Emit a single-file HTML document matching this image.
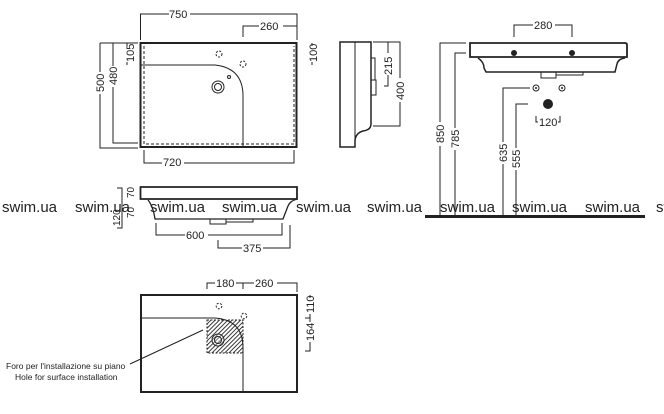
<!DOCTYPE html>
<html><head><meta charset="utf-8"><style>
html,body{margin:0;padding:0;background:#fff;}
svg{display:block;}
text{font-family:"Liberation Sans",Arial,sans-serif;fill:#222;}
.d{font-size:11px;}
.w{font-size:15px;fill:#939393;}
</style></head><body>
<svg width="664" height="414" viewBox="0 0 664 414" xmlns="http://www.w3.org/2000/svg">
<defs>
<pattern id="h" width="3" height="3" patternUnits="userSpaceOnUse" patternTransform="rotate(45)">
<rect width="3" height="3" fill="#fff"/><line x1="0" y1="0" x2="0" y2="3" stroke="#222" stroke-width="1.8"/>
</pattern>
</defs>
<g fill="none" stroke="#222" stroke-width="1">
<!-- top view -->
<rect x="140.5" y="43" width="156" height="104" stroke-width="2"/>
<path d="M144 46 V144 H294 V46" stroke-dasharray="3,2"/>
<path d="M141 65 H215 Q243 68 243 96 V147"/>
<circle cx="218" cy="87" r="6"/><circle cx="218" cy="87" r="3.5"/>
<circle cx="229" cy="77" r="1.5"/>
<circle cx="219" cy="54" r="3" stroke-dasharray="2,1.5"/>
<circle cx="243" cy="64" r="3" stroke-dasharray="2,1.5"/>
<path d="M140.5 40 V14 H169 M190 14 H297 V40"/>
<path d="M243 37 V26 H259 M283 26 H297"/>
<path d="M100 43 H138 M100 43 V72 M100 94 V148 H138 M113 43 V66 M113 87 V143 H138"/>
<path d="M127 43 V46 M127 62 V65"/>
<path d="M312 43 V46 M312 62 V65"/>
<path d="M144 150 V163 H162 M184 163 H294 V150"/>
<!-- side view -->
<path d="M340 42 H371 V124 Q371 130 363 131 Q356 133 355 140 V147 H340 Z" stroke-width="1.5"/>
<path d="M355 42 V147"/>
<rect x="371" y="58" width="4" height="22"/><rect x="371" y="80" width="5" height="15"/>
<path d="M373 42 H400 V78 M400 102 V126 H373 M373 42 H388 V53 M388 75 V86 H384"/>
<!-- front right -->
<path d="M470 43 H625 Q627 43 627 45 V57 H470 Z" stroke-width="1.8"/>
<path d="M478 58 Q484 62 484 68 L486 72 H615 L617 64 Q618 59 625 58" stroke-width="1.5"/>
<rect x="541" y="72" width="15" height="6"/><rect x="556" y="72" width="27" height="3"/>
<circle cx="536" cy="88" r="3"/><circle cx="562" cy="88" r="3"/>
<path d="M514 37 V25 H533 M555 25 H572 V37"/>
<path d="M440 218 V146 M440 122 V43 H466 M455 218 V150 M455 128 V53 H466"/>
<path d="M503 218 V164 M503 142 V88 H530 M516 218 V170 M516 148 V104 H528"/>
<path d="M536 116 V122 H538 M560 116 V122 H558"/>
<!-- front middle -->
<path d="M140.5 187 H297 V199 H140.5 Z" stroke-width="1.8"/>
<path d="M148 200 Q153 206 155 219 H283 L288 206 Q290 201 297 199" stroke-width="1.3"/>
<rect x="210" y="219" width="16" height="5"/><rect x="226" y="219" width="27" height="3"/>
<path d="M156 223 V235 H185 M208 235 H282 V223"/>
<path d="M218 240 V248 H242 M263 248 H290 V225"/>
<path d="M117 188 H122 V228 H117"/>
<!-- bottom view -->
<rect x="141" y="295" width="156" height="97" stroke-width="2"/>
<rect x="207" y="320" width="36" height="33" fill="url(#h)" stroke-dasharray="2,1.5"/>
<path d="M141 318 H215 Q243 320 243 348 V392"/>
<circle cx="218" cy="340" r="6" fill="#fff" fill-opacity="0.3"/><circle cx="218" cy="340" r="3.5"/>
<circle cx="219" cy="306" r="2.8" stroke-dasharray="2,1.5"/>
<circle cx="244" cy="316" r="2.8" stroke-dasharray="2,1.5"/>
<path d="M207 289 V283 H215 M236 283 H254 M277 283 H297 V292"/>
<path d="M243 283 V289"/>
<path d="M310 295 V298 M310 314 V318 H305 M310 318 V322 M310 342 V351 H305"/>
<path d="M130 364 L203 330"/>
</g>
<g fill="#222">
<circle cx="514" cy="53" r="3"/><circle cx="572" cy="53" r="3"/>
<circle cx="548" cy="104" r="5"/>
<circle cx="536" cy="88" r="1"/><circle cx="562" cy="88" r="1"/>
</g>
<rect x="425" y="215" width="220" height="3" fill="#222"/>
<g class="d">
<text x="169" y="18">750</text>
<text x="260" y="30">260</text>
<text transform="translate(104 92) rotate(-90)">500</text>
<text transform="translate(117 85) rotate(-90)">480</text>
<text transform="translate(134 62) rotate(-90)">105</text>
<text transform="translate(317 62) rotate(-90)">100</text>
<text x="163" y="166">720</text>
<text transform="translate(392 75) rotate(-90)">215</text>
<text transform="translate(404 100) rotate(-90)">400</text>
<text x="534" y="29">280</text>
<text transform="translate(444 143) rotate(-90)">850</text>
<text transform="translate(459 148) rotate(-90)">785</text>
<text transform="translate(507 162) rotate(-90)">635</text>
<text transform="translate(520 168) rotate(-90)">555</text>
<text x="539" y="126">120</text>
<text x="186" y="239">600</text>
<text x="243" y="252">375</text>
<text transform="translate(120 226) rotate(-90)" font-size="10">120</text>
<text transform="translate(134 198) rotate(-90)" font-size="10">70</text>
<text transform="translate(134 218) rotate(-90)" font-size="10">70</text>
<text x="216" y="287">180</text>
<text x="255" y="287">260</text>
<text transform="translate(314 313) rotate(-90)">110</text>
<text transform="translate(314 341) rotate(-90)">164</text>
<text x="6" y="369" font-size="8.5">Foro per l'installazione su piano</text>
<text x="15" y="380" font-size="8.5">Hole for surface installation</text>
</g>
<g class="w">
<text x="2" y="212">swim.ua</text>
<text x="75" y="212">swim.ua</text>
<text x="150" y="212">swim.ua</text>
<text x="222" y="212">swim.ua</text>
<text x="296" y="212">swim.ua</text>
<text x="367" y="212">swim.ua</text>
<text x="440" y="212">swim.ua</text>
<text x="512" y="212">swim.ua</text>
<text x="585" y="212">swim.ua</text>
<text x="656" y="212">swim.ua</text>
</g>
</svg>
</body></html>
